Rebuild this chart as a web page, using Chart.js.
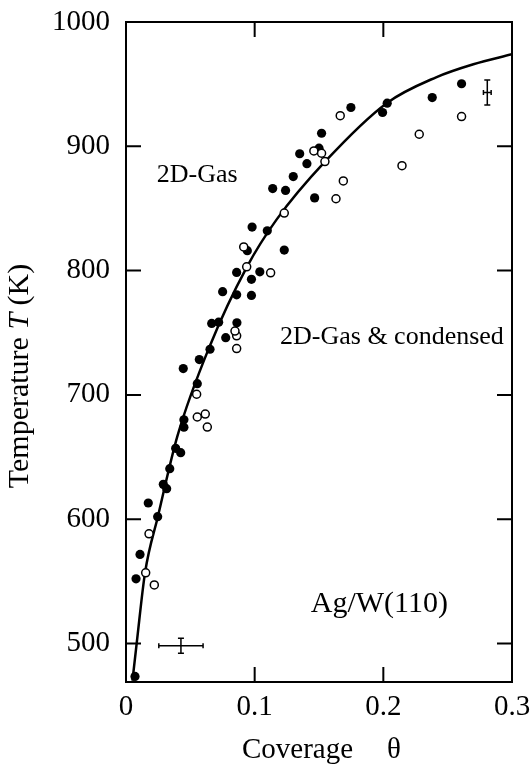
<!DOCTYPE html>
<html><head><meta charset="utf-8">
<script src="https://cdn.jsdelivr.net/npm/chart.js@4/dist/chart.umd.min.js"></script>
<style>html,body{margin:0;padding:0;background:#fff}</style>
</head><body>
<canvas id="c" width="532" height="769"></canvas>
<script>
// ---- data ----
const filledTheta = [0.007,0.0078,0.0109,0.0173,0.0246,0.029,0.0316,0.034,0.0386,0.0425,0.045,0.045,0.0445,0.0554,0.057,0.0653,0.0666,0.072,0.0775,0.0862,0.0751,0.086,0.0975,0.086,0.104,0.0975,0.0943,0.123,0.098,0.1098,0.114,0.124,0.130,0.135,0.1406,0.1466,0.150,0.152,0.1748,0.1994,0.203,0.238,0.2608];
const filledT     = [473.5,552,571.6,613,602,628,624.5,640.6,657,653.5,674,680,721.2,709,728.4,736.7,757.5,758.5,746,758,783,780.5,780,798.5,799,793,816,816.5,835,832,866,864.5,875.6,894,886,858.5,898.5,910.5,931.2,927.2,934.7,939.2,950.3];
const openTheta   = [0.0153,0.0179,0.022,0.0549,0.0554,0.0616,0.0632,0.086,0.086,0.0847,0.0938,0.0915,0.1124,0.123,0.146,0.152,0.1546,0.1632,0.1665,0.1689,0.2145,0.2279,0.2608];
const openT       = [556.8,588.2,547.1,700.5,682.2,684.6,674.1,737.3,747.5,751.3,803,819,798.2,846.3,896.3,894.4,887.7,857.8,924.6,872.1,884.4,909.7,923.9];
const fitTheta    = [0.005,0.0083,0.0148,0.025,0.040,0.065,0.094,0.117,0.155,0.2026,0.241,0.27,0.3];
const fitT        = [470,500,557,603,667,739,803,841,888,934.7,955.5,966,974];
const errTheta    = [0.0427,0.2808];
const errT        = [498.2,943.3];
const errDTheta   = [0.0172,0.003];
const errDT       = [6,10];
const xTickValues = [0,0.1,0.2,0.3];
const xTickLabels = ['0','0.1','0.2','0.3'];
const yTickValues = [500,600,700,800,900,1000];
const yTickLabels = ['500','600','700','800','900','1000'];
const noteTexts   = ['2D-Gas','2D-Gas & condensed','Ag/W(110)'];
const noteTheta   = [0.0239,0.1197,0.2502];
const noteT       = [871.6,740.6,525];
const xTitle      = ['Coverage','θ'];
const yTitle      = ['Temperature ','T',' (K)'];

const toPts = (xs, ys) => xs.map((x, i) => ({x: x, y: ys[i]}));
const SERIF = "'Liberation Serif', 'Times New Roman', serif";

const framePlugin = {
  id: 'frame',
  beforeDatasetsDraw(chart) {
    const {ctx, chartArea: a, scales} = chart;
    ctx.save();
    ctx.strokeStyle = '#000';
    ctx.lineWidth = 2;
    ctx.strokeRect(a.left, a.top, a.right - a.left, a.bottom - a.top);
    const L = 15;
    ctx.beginPath();
    xTickValues.forEach(v => {
      const px = scales.x.getPixelForValue(v);
      ctx.moveTo(px, a.bottom); ctx.lineTo(px, a.bottom - L);
      ctx.moveTo(px, a.top); ctx.lineTo(px, a.top + L);
    });
    yTickValues.forEach(v => {
      const py = scales.y.getPixelForValue(v);
      ctx.moveTo(a.left, py); ctx.lineTo(a.left + L, py);
      ctx.moveTo(a.right, py); ctx.lineTo(a.right - L, py);
    });
    ctx.stroke();
    ctx.restore();
  },
  afterDatasetsDraw(chart) {
    const {ctx, scales} = chart;
    const sx = scales.x, sy = scales.y;
    ctx.save();
    ctx.strokeStyle = '#000';
    ctx.lineWidth = 1.5;
    errTheta.forEach((t, i) => {
      const cx = sx.getPixelForValue(t), cy = sy.getPixelForValue(errT[i]);
      const x0 = sx.getPixelForValue(t - errDTheta[i]), x1 = sx.getPixelForValue(t + errDTheta[i]);
      const y0 = sy.getPixelForValue(errT[i] + errDT[i]), y1 = sy.getPixelForValue(errT[i] - errDT[i]);
      ctx.beginPath();
      ctx.moveTo(x0, cy); ctx.lineTo(x1, cy);
      ctx.moveTo(x0, cy - 2.5); ctx.lineTo(x0, cy + 2.5);
      ctx.moveTo(x1, cy - 2.5); ctx.lineTo(x1, cy + 2.5);
      ctx.moveTo(cx, y0); ctx.lineTo(cx, y1);
      ctx.moveTo(cx - 3, y0); ctx.lineTo(cx + 3, y0);
      ctx.moveTo(cx - 3, y1); ctx.lineTo(cx + 3, y1);
      ctx.stroke();
    });
    ctx.fillStyle = '#000';
    ctx.textBaseline = 'alphabetic';
    noteTexts.forEach((s, i) => {
      ctx.font = (i === 2 ? '30px ' : '26px ') + SERIF;
      ctx.textAlign = i === 2 ? 'right' : 'left';
      ctx.fillText(s, sx.getPixelForValue(noteTheta[i]), sy.getPixelForValue(noteT[i]));
    });
    // axis titles
    ctx.font = '29px ' + SERIF;
    ctx.textAlign = 'left';
    ctx.fillText(xTitle[0], 242, 758);
    ctx.fillText(xTitle[1], 387, 758);
    ctx.translate(28, 376);
    ctx.rotate(-Math.PI / 2);
    const f1 = '30px ' + SERIF, f2 = 'italic 30px ' + SERIF;
    ctx.font = f1; const w0 = ctx.measureText(yTitle[0]).width, w2 = ctx.measureText(yTitle[2]).width;
    ctx.font = f2; const w1 = ctx.measureText(yTitle[1]).width;
    let x = -(w0 + w1 + w2) / 2;
    ctx.font = f1; ctx.fillText(yTitle[0], x, 0); x += w0;
    ctx.font = f2; ctx.fillText(yTitle[1], x, 0); x += w1;
    ctx.font = f1; ctx.fillText(yTitle[2], x, 0);
    ctx.restore();
  }
};

function noPad(s) { s.paddingLeft = 0; s.paddingRight = 0; s.paddingTop = 0; s.paddingBottom = 0; }

new Chart(document.getElementById('c'), {
  type: 'scatter',
  data: {
    datasets: [
      {label: 'fit', type: 'line', data: toPts(fitTheta, fitT), borderColor: '#000', borderWidth: 2.5,
       pointRadius: 0, fill: false, cubicInterpolationMode: 'monotone', order: 3},
      {label: 'filled', data: toPts(filledTheta, filledT), pointRadius: 4.6, pointBackgroundColor: '#000',
       pointBorderColor: '#000', pointBorderWidth: 0, order: 2},
      {label: 'open', data: toPts(openTheta, openT), pointRadius: 4, pointBackgroundColor: '#fff',
       pointBorderColor: '#000', pointBorderWidth: 1.5, order: 1}
    ]
  },
  options: {
    responsive: false,
    animation: false,
    devicePixelRatio: 1,
    layout: {padding: {top: 22, right: 20, left: 0, bottom: 0}},
    plugins: {legend: {display: false}, tooltip: {enabled: false}},
    scales: {
      x: {
        type: 'linear', min: 0, max: 0.3,
        afterFit(s) { s.height = 87; noPad(s); },
        afterBuildTicks(s) { s.ticks = xTickValues.map(v => ({value: v})); },
        grid: {display: false, drawTicks: false}, border: {display: false},
        ticks: {callback: (v, i) => xTickLabels[i], color: '#000', padding: 8, maxRotation: 0, autoSkip: false,
                font: {family: SERIF, size: 29}}
      },
      y: {
        type: 'linear', min: 469, max: 1000,
        afterFit(s) { s.width = 126; noPad(s); },
        afterBuildTicks(s) { s.ticks = yTickValues.map(v => ({value: v})); },
        grid: {display: false, drawTicks: false}, border: {display: false},
        ticks: {callback: (v, i) => yTickLabels[i], color: '#000', padding: 16, autoSkip: false,
                font: {family: SERIF, size: 29}}
      }
    }
  },
  plugins: [framePlugin]
});
</script>
</body></html>
